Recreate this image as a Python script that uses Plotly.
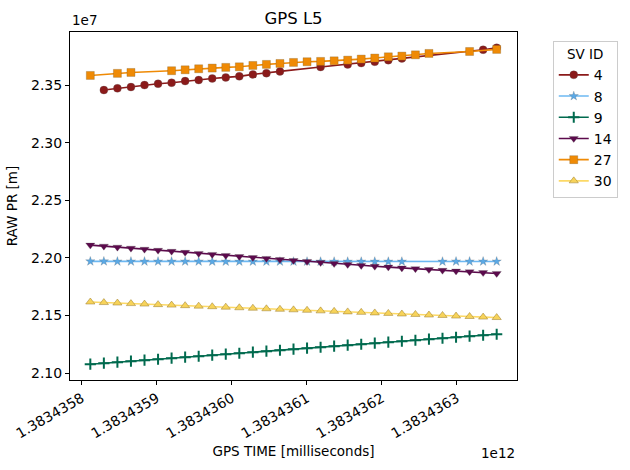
import plotly.graph_objects as go

# Sample epochs (GPS time, milliseconds)
TIME_MS = [
    1383435811300, 1383435829360, 1383435847420, 1383435865480, 1383435883540,
    1383435901600, 1383435919660, 1383435937720, 1383435955780, 1383435973840,
    1383435991900, 1383436009960, 1383436028020, 1383436046080, 1383436064140,
    1383436082200, 1383436100260, 1383436118320, 1383436136380, 1383436154440,
    1383436172500, 1383436190560, 1383436208620, 1383436226680, 1383436244740,
    1383436262800, 1383436280860, 1383436298920, 1383436316980, 1383436335040,
    1383436353100,
]

ALL_IDX = list(range(31))

SV4_IDX = [1, 2, 3, 4, 5, 6, 7, 8, 9, 10, 11, 12, 13, 14, 17, 19, 20, 21, 22, 23, 29, 30]
SV4_PR = [23458000, 23473000, 23484000, 23501000, 23513000, 23522000, 23536000,
          23545000, 23559000, 23568000, 23577000, 23594000, 23605000, 23620000,
          23658000, 23681000, 23692000, 23704000, 23718000, 23733000, 23808000,
          23825000]

SV8_IDX = [0, 1, 2, 3, 4, 5, 6, 7, 8, 9, 10, 11, 12, 13, 14, 15, 16, 17, 18, 19,
           20, 21, 22, 23, 26, 27, 28, 29, 30]
SV8_PR = [21971000, 21971000, 21970000, 21970000, 21970000, 21970000, 21970000,
          21970000, 21970000, 21969000, 21969000, 21969000, 21969000, 21969000,
          21969000, 21969000, 21969000, 21969000, 21969000, 21969000, 21969000,
          21969000, 21969000, 21969000, 21969000, 21970000, 21970000, 21970000,
          21970000]

SV9_IDX = ALL_IDX
SV9_PR = [21078000, 21087000, 21095000, 21104000, 21113000, 21121000, 21130000,
          21139000, 21147000, 21156000, 21165000, 21173000, 21182000, 21191000,
          21199000, 21208000, 21217000, 21225000, 21234000, 21243000, 21251000,
          21260000, 21269000, 21277000, 21286000, 21295000, 21303000, 21312000,
          21321000, 21329000, 21338000]

SV14_IDX = ALL_IDX
SV14_PR = [22112000, 22103000, 22094000, 22085000, 22076000, 22067000, 22058000,
           22049000, 22040000, 22031000, 22022000, 22013000, 22004000, 21996000,
           21987000, 21978000, 21970000, 21961000, 21952000, 21944000, 21935000,
           21928000, 21921000, 21914000, 21907000, 21900000, 21893000, 21887000,
           21880000, 21873000, 21866000]

SV27_IDX = [0, 2, 3, 6, 7, 8, 9, 10, 11, 12, 13, 14, 15, 16, 17, 18, 19, 20, 21,
            22, 23, 24, 25, 28, 30]
SV27_PR = [23585000, 23603000, 23611000, 23626000, 23634000, 23643000, 23649000,
           23655000, 23660000, 23672000, 23681000, 23689000, 23698000, 23704000,
           23707000, 23712000, 23718000, 23727000, 23736000, 23747000, 23753000,
           23764000, 23776000, 23793000, 23811000]

SV30_IDX = ALL_IDX
SV30_PR = [21618000, 21613000, 21609000, 21604000, 21600000, 21595000, 21591000,
           21586000, 21582000, 21577000, 21573000, 21568000, 21564000, 21559000,
           21555000, 21550000, 21546000, 21541000, 21537000, 21532000, 21528000,
           21523000, 21519000, 21514000, 21510000, 21505000, 21501000, 21496000,
           21492000, 21487000, 21483000]

X_TICKS = [1383435800000, 1383435900000, 1383436000000, 1383436100000,
           1383436200000, 1383436300000]
X_TICK_TEXT = ["1.3834358", "1.3834359", "1.3834360", "1.3834361", "1.3834362",
               "1.3834363"]
Y_TICKS = [21000000, 21500000, 22000000, 22500000, 23000000, 23500000]
Y_TICK_TEXT = ["2.10", "2.15", "2.20", "2.25", "2.30", "2.35"]

# name, indices, values, line colour, marker fill, marker edge, edge width, symbol, size
SERIES = [
    ("4", SV4_IDX, SV4_PR, "#8b1a1a", "#8b1a1a", "rgba(90,90,90,0.45)", 0.6, "circle", 8),
    ("8", SV8_IDX, SV8_PR, "#6db8f2", "#5aa9e6", "rgba(90,90,90,0.45)", 0.5, "star", 7),
    ("9", SV9_IDX, SV9_PR, "#006a4e", "#006a4e", "#006a4e", 2.0, "cross-thin", 8),
    ("14", SV14_IDX, SV14_PR, "#5c0a4c", "#5c0a4c", "rgba(90,90,90,0.45)", 0.6, "triangle-down", 8),
    ("27", SV27_IDX, SV27_PR, "#ef8a05", "#ef8a05", "rgba(120,90,40,0.5)", 0.6, "square", 8),
    ("30", SV30_IDX, SV30_PR, "#fcd966", "#f7d35a", "rgba(150,120,40,0.7)", 0.7, "triangle-up", 8),
]

FONT = "DejaVu Sans"

fig = go.Figure()
for name, idx, pr, lcol, mcol, ecol, ew, sym, size in SERIES:
    fig.add_trace(go.Scatter(
        x=[TIME_MS[i] for i in idx], y=pr, name=name, mode="lines+markers",
        line=dict(color=lcol, width=1.6),
        marker=dict(symbol=sym, size=size, color=mcol,
                    line=dict(color=ecol, width=ew)),
    ))

axis_common = dict(showline=True, linecolor="black", linewidth=1, mirror=True,
                   ticks="outside", ticklen=4, tickcolor="black", showgrid=False,
                   zeroline=False, tickfont=dict(family=FONT, size=14, color="black"))

fig.update_layout(
    width=630, height=470,
    margin=dict(l=70, r=107, t=32, b=90),
    plot_bgcolor="white", paper_bgcolor="white",
    font=dict(family=FONT, size=14, color="black"),
    title=dict(text="GPS L5", x=0.5, xref="paper", xanchor="center",
               y=1 - 18 / 470, yanchor="middle",
               font=dict(family=FONT, size=16.5, color="black")),
    xaxis=dict(range=[1383435784210, 1383436380190], tickvals=X_TICKS,
               ticktext=X_TICK_TEXT, tickangle=-30,
               title=dict(text="GPS TIME [milliseconds]", standoff=6,
                          font=dict(family=FONT, size=13.5)),
               **axis_common),
    yaxis=dict(range=[20940655, 23962245], tickvals=Y_TICKS, ticktext=Y_TICK_TEXT,
               title=dict(text="RAW PR [m]", standoff=10,
                          font=dict(family=FONT, size=13.5)),
               **axis_common),
    legend=dict(x=1.08, y=0.975, xanchor="left", yanchor="top",
                bordercolor="#cccccc", borderwidth=1, bgcolor="white",
                title=dict(text="SV ID", side="top center",
                           font=dict(family=FONT, size=13.5)),
                font=dict(family=FONT, size=14), itemwidth=30,
                tracegroupgap=0),
    showlegend=True,
    annotations=[
        dict(text="1e7", xref="paper", yref="paper", x=0, y=1, xanchor="left",
             yanchor="bottom", yshift=2, showarrow=False,
             font=dict(family=FONT, size=13.5)),
        dict(text="1e12", xref="paper", yref="paper", x=1, y=0, xanchor="right",
             yanchor="top", yshift=-63, showarrow=False,
             font=dict(family=FONT, size=13.5)),
    ],
)

fig.write_html("out.html")
